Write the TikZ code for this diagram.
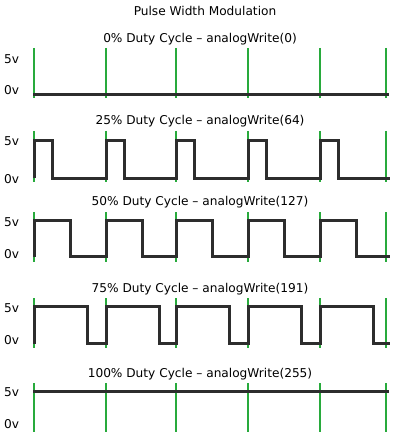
\documentclass[tikz,border=0pt]{standalone}
\usepackage{fontspec}
\setmainfont{DejaVu Sans}
\usepackage{tikz}

\definecolor{pwmgreen}{RGB}{40,170,60}
\definecolor{pwmdark}{RGB}{45,45,45}

\begin{document}
\begin{tikzpicture}[
  x=1bp,y=-1bp,
  caption/.style={anchor=base,inner sep=0pt,font=\fontsize{12.2}{14}\selectfont},
  volt/.style={anchor=base west,inner sep=0pt,font=\fontsize{12.2}{14}\selectfont},
  tick/.style={draw=pwmgreen,line width=1.8bp},
  wave/.style={draw=pwmdark,line width=3.2bp,line join=miter}
]
\useasboundingbox (0,0) rectangle (397,443);
\node[caption] (title) at (205,15.7) {Pulse Width Modulation};

% 0% duty cycle
\node[caption] (cap0) at (200,43) {0\% Duty Cycle – analogWrite(0)};
\node[volt] (hi0) at (4,63.3) {5v};
\node[volt] (lo0) at (4,95) {0v};
\foreach \x in {34,106,176,248,320,386}
  \draw[tick] (\x,48) -- (\x,98);
\draw[wave] (33,94.5) -- (389,94.5);

% 25% duty cycle
\node[caption] (cap25) at (200,125) {25\% Duty Cycle – analogWrite(64)};
\node[volt] (hi25) at (4,145.7) {5v};
\node[volt] (lo25) at (4,183.3) {0v};
\foreach \x in {34,106,176,248,320,386}
  \draw[tick] (\x,131) -- (\x,182);
\draw[wave] (34.5,178.5) \foreach \s/\n in {34.5/106.5,106.5/176.5,176.5/248.5,248.5/320.5,320.5/390}
  { -- (\s,140.5) -- (\s+18,140.5) -- (\s+18,178.5) -- (\n,178.5) };

% 50% duty cycle
\node[caption] (cap50) at (200,205.7) {50\% Duty Cycle – analogWrite(127)};
\node[volt] (hi50) at (4,226.7) {5v};
\node[volt] (lo50) at (4,258.3) {0v};
\foreach \x in {34,106,176,248,320,386}
  \draw[tick] (\x,212) -- (\x,262);
\draw[wave] (34.5,256.5) \foreach \s/\n in {34.5/106.5,106.5/176.5,176.5/248.5,248.5/320.5,320.5/390}
  { -- (\s,220.5) -- (\s+36,220.5) -- (\s+36,256.5) -- (\n,256.5) };

% 75% duty cycle
\node[caption] (cap75) at (200,292.7) {75\% Duty Cycle – analogWrite(191)};
\node[volt] (hi75) at (4,312.3) {5v};
\node[volt] (lo75) at (4,344.3) {0v};
\foreach \x in {34,106,176,248,320,386}
  \draw[tick] (\x,298) -- (\x,348);
\draw[wave] (34.5,343.5) \foreach \s/\n in {34.5/106.5,106.5/176.5,176.5/248.5,248.5/320.5,320.5/390}
  { -- (\s,306.5) -- (\s+53,306.5) -- (\s+53,343.5) -- (\n,343.5) };

% 100% duty cycle
\node[caption] (cap100) at (200,377.7) {100\% Duty Cycle – analogWrite(255)};
\node[volt] (hi100) at (4,396) {5v};
\node[volt] (lo100) at (4,428.3) {0v};
\foreach \x in {34,106,176,248,320,386}
  \draw[tick] (\x,383) -- (\x,432);
\draw[wave] (33,391.5) -- (389,391.5);
\end{tikzpicture}
\end{document}
